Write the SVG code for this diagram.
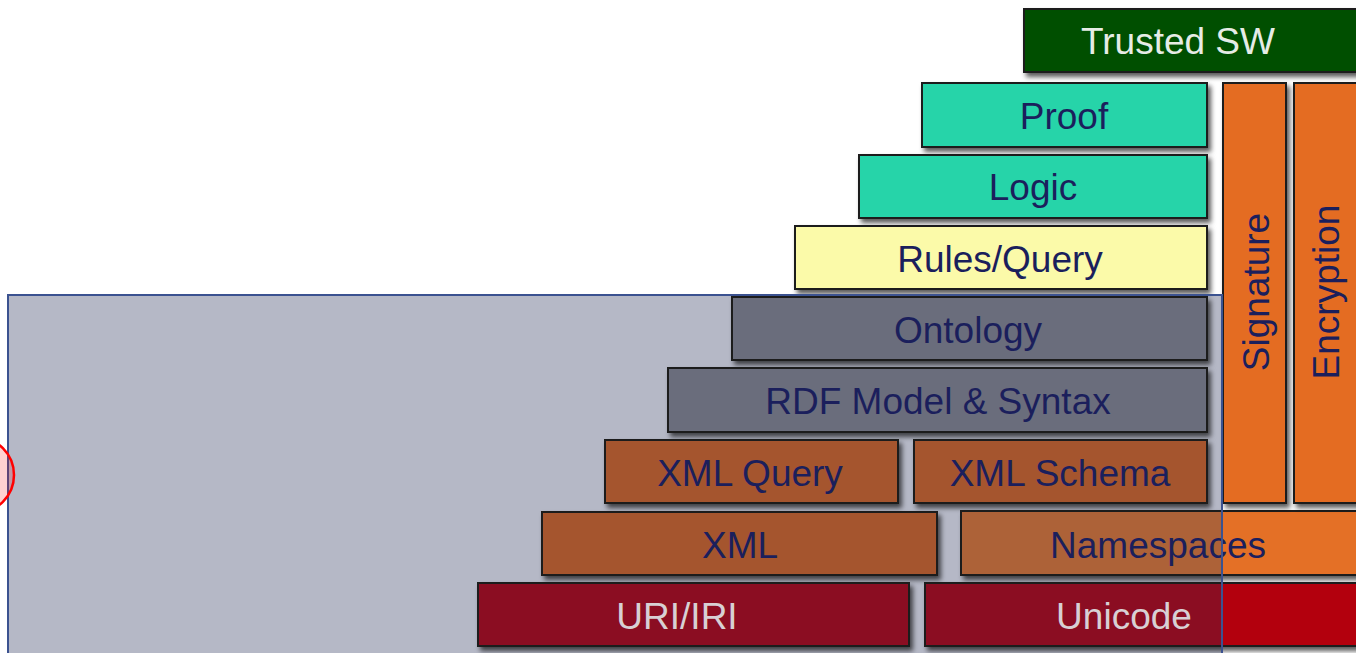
<svg xmlns="http://www.w3.org/2000/svg" width="1356" height="653" viewBox="0 0 1356 653">
<defs>
<filter id="sh" x="-10%" y="-20%" width="130%" height="150%">
<feDropShadow dx="3" dy="4" stdDeviation="2.5" flood-color="#000" flood-opacity="0.65"/>
</filter>
<clipPath id="inside"><rect x="8" y="295" width="1214" height="360"/></clipPath>
</defs>
<style>
.b{stroke:#1b1b1b;stroke-width:2;filter:url(#sh)}
.t{font-family:"Liberation Sans",Arial,sans-serif;font-size:37px;text-anchor:middle;fill:#1b1f5c}
.w{fill:#e6ece6}
.u{fill:#d8d0d4}
</style>
<rect width="1356" height="653" fill="#fff"/>
<rect id="overlay-bg" x="8" y="295" width="1214" height="370" fill="#b5b8c6"/>
<g id="trusted-sw"><rect class="b" x="1024" y="9" width="345" height="63" fill="#004f02"/><text class="t w" x="1178" y="54">Trusted SW</text></g>
<g id="proof"><rect class="b" x="922" y="83" width="285" height="64" fill="#26d4a9"/><text class="t" x="1064" y="129">Proof</text></g>
<g id="logic"><rect class="b" x="859" y="155" width="348" height="63" fill="#26d4a9"/><text class="t" x="1033" y="200">Logic</text></g>
<g id="rules-query"><rect class="b" x="795" y="226" width="412" height="63" fill="#fbfaa9"/><text class="t" x="1000" y="272">Rules/Query</text></g>
<g id="ontology"><rect class="b" x="732" y="297" width="475" height="63" fill="#6b6d7b"/><text class="t" x="968" y="343">Ontology</text></g>
<g id="rdf"><rect class="b" x="668" y="368" width="539" height="64" fill="#6b6d7b"/><text class="t" x="938" y="414">RDF Model &amp; Syntax</text></g>
<g id="xml-query"><rect class="b" x="605" y="440" width="293" height="63" fill="#a5552f"/><text class="t" x="750" y="486">XML Query</text></g>
<g id="xml-schema"><rect class="b" x="914" y="440" width="293" height="63" fill="#a5552f"/><text class="t" x="1060" y="486">XML Schema</text></g>
<g id="xml"><rect class="b" x="542" y="512" width="395" height="63" fill="#a5552f"/><text class="t" x="740" y="558">XML</text></g>
<g id="namespaces"><rect class="b" x="961" y="511" width="410" height="64" fill="#e46f27"/><rect x="962" y="512" width="260" height="62" fill="#ad6238" clip-path="url(#inside)"/><text class="t" x="1158" y="558">Namespaces</text></g>
<g id="uri-iri"><rect class="b" x="478" y="583" width="431" height="63" fill="#8b0d22"/><text class="t u" x="677" y="629">URI/IRI</text></g>
<g id="unicode"><rect class="b" x="925" y="583" width="446" height="63" fill="#b3040f"/><rect x="926" y="584" width="296" height="61" fill="#8b0d22" clip-path="url(#inside)"/><text class="t u" x="1124" y="629">Unicode</text></g>
<g id="signature"><rect class="b" x="1223" y="83" width="63" height="420" fill="#e46c22"/><text class="t" transform="translate(1269,292) rotate(-90)">Signature</text></g>
<g id="encryption"><rect class="b" x="1294" y="83" width="75" height="420" fill="#e46c22"/><text class="t" transform="translate(1339,292) rotate(-90)">Encryption</text></g>
<g id="connectors"/>
<rect id="overlay-border" x="8" y="295" width="1214" height="370" fill="none" stroke="#3b5290" stroke-width="2"/>
<circle id="marker-circle" cx="-24" cy="475" r="38" fill="#ff0000" fill-opacity="0.18" stroke="#ff0000" stroke-width="2.5"/>
</svg>
